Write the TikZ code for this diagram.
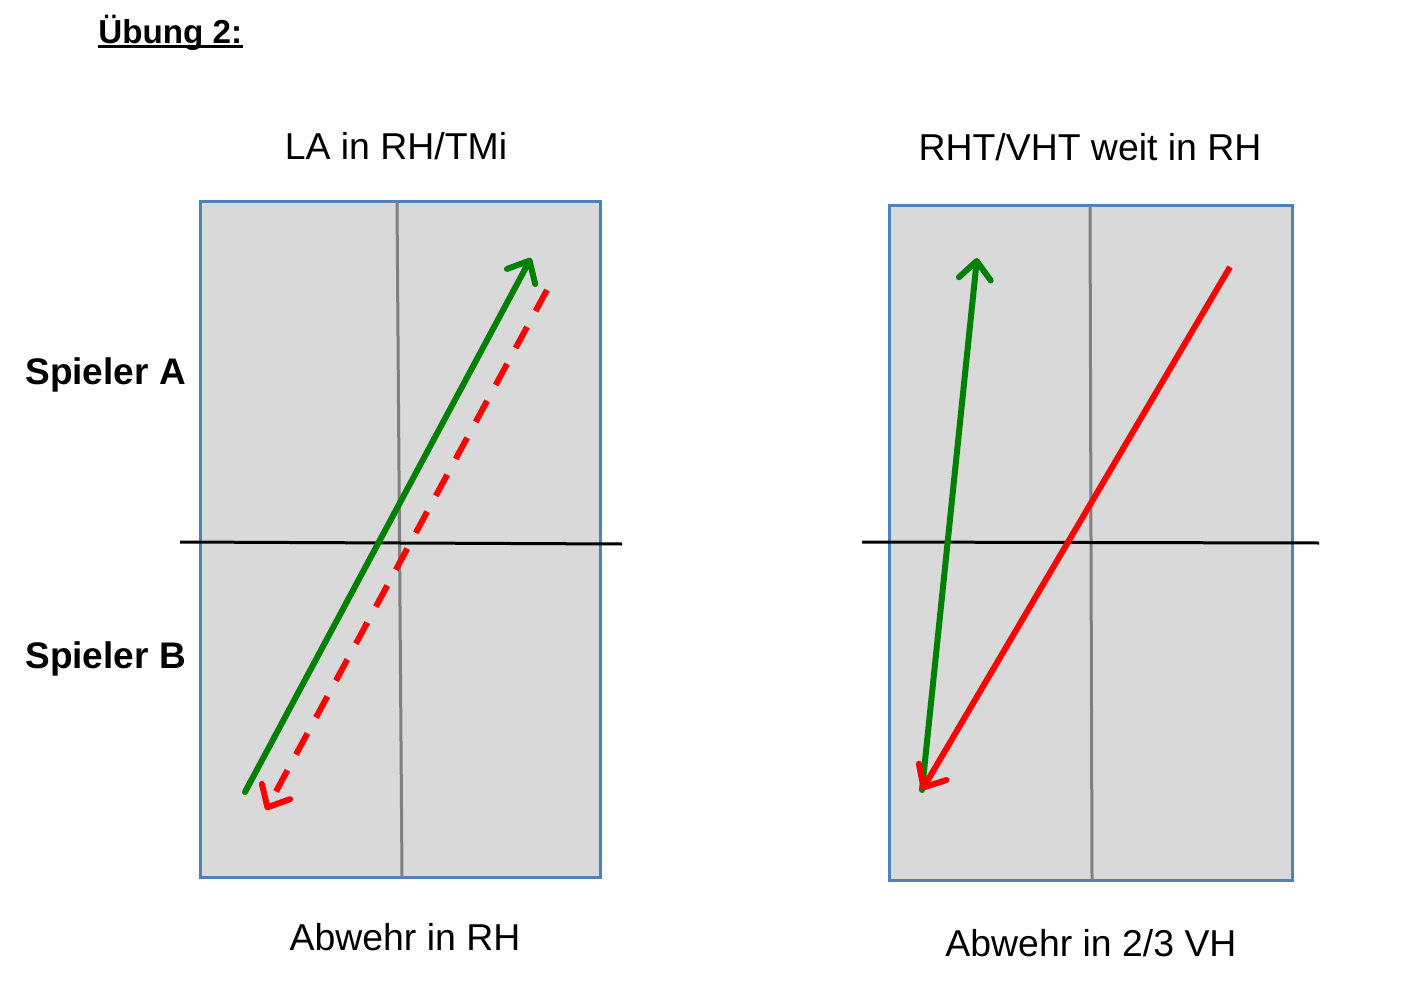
\documentclass[tikz,border=0pt]{standalone}
\usepackage{fontspec}
\setmainfont{Liberation Sans}
\usetikzlibrary{arrows.meta}
\definecolor{fieldblue}{HTML}{4F81BD}
\definecolor{fieldgray}{HTML}{D9D9D9}
\definecolor{midgray}{HTML}{808080}
\definecolor{gr}{HTML}{008000}
\definecolor{rd}{HTML}{FF0000}
\tikzset{
  field/.style={draw=fieldblue, fill=fieldgray, line width=1.5pt},
  midline/.style={draw=midgray, line width=1.5pt},
  netline/.style={draw=black, line width=1.5pt},
  tip/.style={-{Straight Barb[length=9pt,width=16pt,line cap=round,line join=round]}},
  greenarr/.style={draw=gr, line width=3pt, line cap=round, tip},
  redarr/.style={draw=rd, line width=3pt, tip},
  reddash/.style={redarr, dash pattern=on 12pt off 9pt},
  lbl/.style={font=\fontsize{18.7}{22}\selectfont, inner sep=0pt},
  blbl/.style={font=\bfseries\fontsize{18.5}{22}\selectfont, inner sep=0pt, anchor=west},
}
\begin{document}
\begin{tikzpicture}[x=0.5pt,y=-0.5pt]
\useasboundingbox (0,0) rectangle (1422,989);
% title
\node[font=\bfseries\fontsize{16.6}{20}\selectfont, inner sep=0pt, anchor=west] (title) at (98,33) {Übung 2:};
\draw[line width=1.5pt] (title.west |- 0,47) -- (title.east |- 0,47);
% left field
\path[field] (200,202) rectangle (600,877);
\coordinate (lt) at (397,202); \coordinate (lb) at (402,877);
\draw[midline] (lt) -- (lb);
\coordinate (ll) at (180,542); \coordinate (lr) at (622,544);
\draw[netline] (ll) -- (lr);
\coordinate (g1s) at (245,792); \coordinate (g1e) at (531,258);
\draw[greenarr] (g1s) -- (g1e);
\coordinate (r1s) at (547,290); \coordinate (r1e) at (266,810);
\draw[reddash] (r1s) -- (r1e);
% right field
\path[field] (889,206) rectangle (1292,880);
\coordinate (rt) at (1090,206); \coordinate (rb) at (1092,880);
\draw[midline] (rt) -- (rb);
\coordinate (rl) at (862,542); \coordinate (rr) at (1319,543);
\draw[netline] (rl) -- (rr);
\coordinate (g2s) at (922,790); \coordinate (g2e) at (977,258);
\draw[greenarr] (g2s) -- (g2e);
\coordinate (r2s) at (1230,267); \coordinate (r2e) at (922,790);
\draw[redarr] (r2s) -- (r2e);
% labels
\node[lbl] (t1) at (396,146) {LA in RH/TMi};
\node[lbl] (t2) at (1090,147) {RHT/VHT weit in RH};
\node[lbl] (b1) at (405,937) {Abwehr in RH};
\node[lbl] (b2) at (1091,943) {Abwehr in 2/3 VH};
\node[blbl] (sa) at (25,375) {Spieler A};
\node[blbl] (sb) at (25,659) {Spieler B};
\end{tikzpicture}
\end{document}
